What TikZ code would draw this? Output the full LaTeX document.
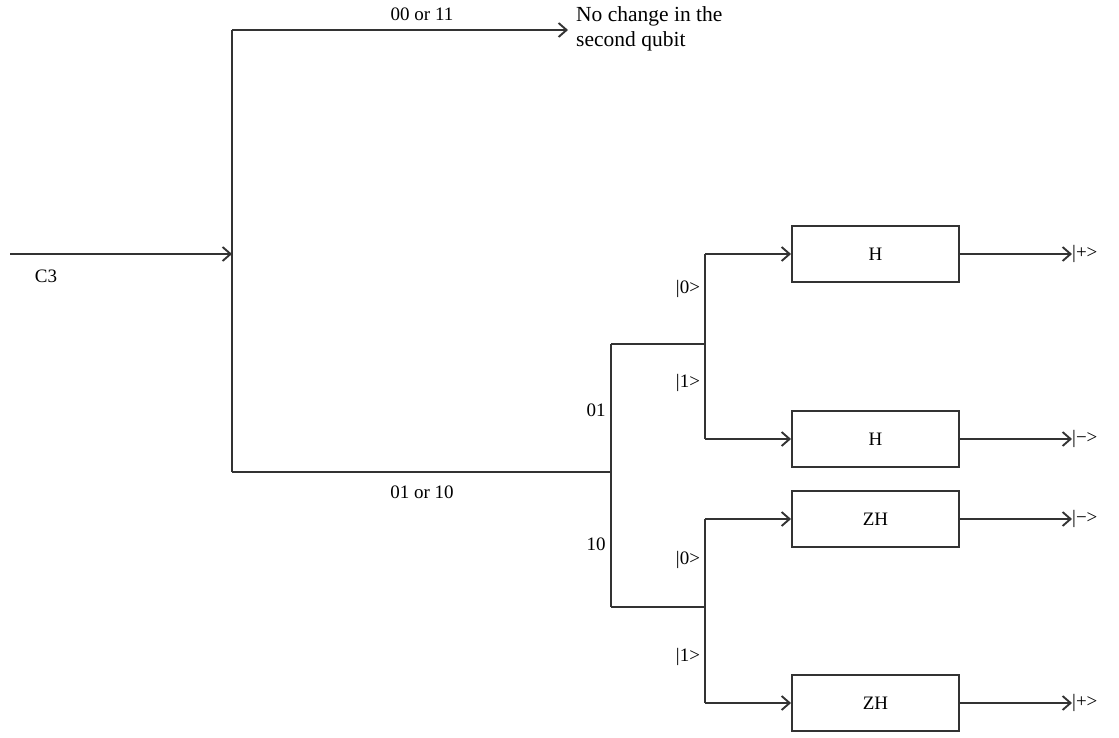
\documentclass[tikz,border=0pt]{standalone}
\usepackage{fontspec}
\setmainfont{Liberation Serif}
\usetikzlibrary{arrows.meta}
\begin{document}
\begin{tikzpicture}[x=1pt,y=-1pt,
  wire/.style={line width=1.9pt,draw=black!80},
  arr/.style={wire,-{Straight Barb[length=8pt,width=14pt,line width=1.9pt]}},
  gate/.style={draw=black!80,line width=1.9pt,minimum width=167pt,minimum height=56pt,inner sep=0pt,font=\fontsize{19}{22}\selectfont},
  lbl/.style={inner sep=0pt,font=\fontsize{19}{22}\selectfont},
  ]
\useasboundingbox (0,0) rectangle (1119,738);
% coordinates
\coordinate (in) at (10,254);
\coordinate (j) at (232,254);
\coordinate (top) at (232,30);
\coordinate (bot) at (232,472);
\coordinate (nc) at (568,30);
\coordinate (s) at (611,472);
\coordinate (sa) at (611,344);
\coordinate (sb) at (611,607);
\coordinate (ua) at (705,344);
\coordinate (ub) at (705,607);
\coordinate (u1) at (705,254);
\coordinate (u2) at (705,439);
\coordinate (u3) at (705,519);
\coordinate (u4) at (705,703);
% gates
\node[gate] (h1) at (875.5,254) {H};
\node[gate] (h2) at (875.5,439) {H};
\node[gate] (zh1) at (875.5,519) {ZH};
\node[gate] (zh2) at (875.5,703) {ZH};
% outputs
\node[lbl,anchor=west] (o1) at (1072,254) {|+>};
\node[lbl,anchor=west] (o2) at (1072,439) {|−>};
\node[lbl,anchor=west] (o3) at (1072,519) {|−>};
\node[lbl,anchor=west] (o4) at (1072,703) {|+>};
% wires
\draw[arr] (in) -- (j);
\draw[wire] (top) -- (bot);
\draw[arr] (top) -- (nc);
\draw[wire] (bot) -- (s);
\draw[wire] (sa) -- (sb);
\draw[wire] (sa) -- (ua);
\draw[wire] (sb) -- (ub);
\draw[wire] (u1) -- (u2);
\draw[wire] (u3) -- (u4);
\draw[arr] (u1) -- (h1.west);
\draw[arr] (u2) -- (h2.west);
\draw[arr] (u3) -- (zh1.west);
\draw[arr] (u4) -- (zh2.west);
\draw[arr] (h1.east) -- (o1.west);
\draw[arr] (h2.east) -- (o2.west);
\draw[arr] (zh1.east) -- (o3.west);
\draw[arr] (zh2.east) -- (o4.west);
% labels
\node[lbl] (c3) at (46,276) {C3};
\node[lbl] (l00) at (422,14) {00 or 11};
\node[lbl,anchor=north west,align=left,font=\fontsize{21.5}{25}\selectfont] (nochg) at (576,6) {No change in the\\second qubit};
\node[lbl] (l0110) at (422,492) {01 or 10};
\node[lbl] (l01) at (596,410) {01};
\node[lbl] (l10) at (596,544) {10};
\node[lbl] (k0a) at (688,289) {|0>};
\node[lbl] (k1a) at (688,383) {|1>};
\node[lbl] (k0b) at (688,560) {|0>};
\node[lbl] (k1b) at (688,657) {|1>};
\end{tikzpicture}
\end{document}
